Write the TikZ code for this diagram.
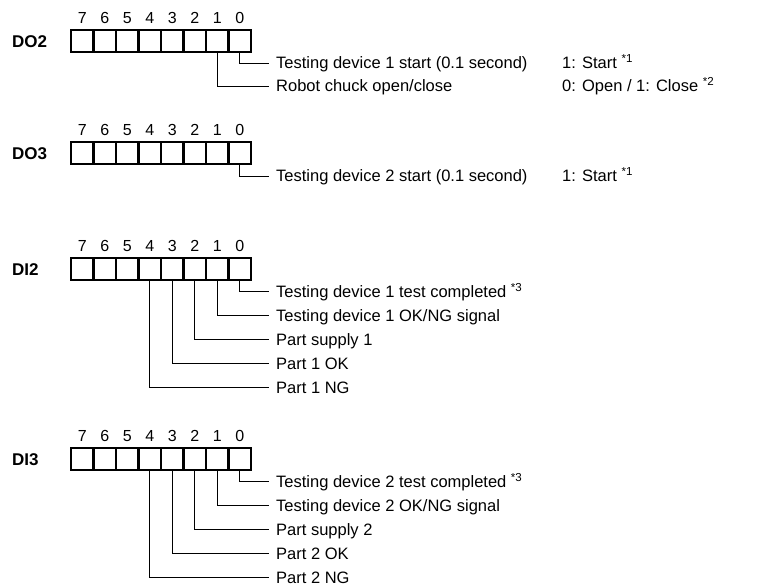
\documentclass[tikz,border=0pt]{standalone}
\usepackage{fontspec}
\setmainfont{Liberation Sans}
\usetikzlibrary{positioning}
\tikzset{
  bitcell/.style={draw, line width=2.1pt, minimum width=22.5pt,
                  minimum height=21.7pt, inner sep=0pt, outer sep=0pt},
  bitnum/.style={font=\fontsize{16}{18}\selectfont, inner sep=0pt,
                 text height=11.5pt, text depth=0pt},
  reglabel/.style={font=\fontsize{17}{19}\selectfont\bfseries, anchor=west,
                   inner sep=0pt, text height=12.2pt, text depth=0pt},
  sigtext/.style={font=\fontsize{16.5}{18}\selectfont, anchor=west,
                  inner xsep=7pt, inner ysep=0pt, text height=11.8pt, text depth=0pt},
  valtext/.style={font=\fontsize{16.5}{18}\selectfont, anchor=west, inner sep=0pt,
                  text height=11.8pt, text depth=0pt},
  sigline/.style={line width=0.9pt}
}
% one register: cells #1-0 .. #1-7 and bit numbers #1-n0 .. #1-n7
\newcommand{\bitrow}[2]{%
  \foreach \b in {0,...,7}{
    \node[bitcell] (#1-\b) at ({239.75-22.5*\b},#2) {};
    \node[bitnum] (#1-n\b) at ({239.75-22.5*\b},{#2-23.1}) {\b};
  }
}

\begin{document}
\begin{tikzpicture}[x=1pt, y=-1pt]
    \useasboundingbox (0,0) rectangle (761,586);

    % DO2
    \bitrow{do2}{41}
    \node[reglabel] (do2) at (12,41) {DO2};
    \node[sigtext] (do2a) at (269,63) {Testing device 1 start (0.1 second)};
    \node[sigtext] (do2b) at (269,86) {Robot chuck open/close};
    \node[valtext] (do2av) at (562,63) {1: Start \textsuperscript{*1}};
    \node[valtext] (do2bv) at (562,86) {0: Open / 1: Close \textsuperscript{*2}};
    \draw[sigline] (do2-0.south) |- (do2a.west);
    \draw[sigline] (do2-1.south) |- (do2b.west);

    % DO3
    \bitrow{do3}{153}
    \node[reglabel] (do3) at (12,153) {DO3};
    \node[sigtext] (do3a) at (269,176) {Testing device 2 start (0.1 second)};
    \node[valtext] (do3av) at (562,176) {1: Start \textsuperscript{*1}};
    \draw[sigline] (do3-0.south) |- (do3a.west);

    % DI2
    \bitrow{di2}{269}
    \node[reglabel] (di2) at (12,269) {DI2};
    \node[sigtext] (di2a) at (269,291.5) {Testing device 1 test completed \textsuperscript{*3}};
    \node[sigtext] (di2b) at (269,315.5) {Testing device 1 OK/NG signal};
    \node[sigtext] (di2c) at (269,339.5) {Part supply 1};
    \node[sigtext] (di2d) at (269,363.5) {Part 1 OK};
    \node[sigtext] (di2e) at (269,387.5) {Part 1 NG};
    \draw[sigline] (di2-0.south) |- (di2a.west);
    \draw[sigline] (di2-1.south) |- (di2b.west);
    \draw[sigline] (di2-2.south) |- (di2c.west);
    \draw[sigline] (di2-3.south) |- (di2d.west);
    \draw[sigline] (di2-4.south) |- (di2e.west);

    % DI3
    \bitrow{di3}{459}
    \node[reglabel] (di3) at (12,459) {DI3};
    \node[sigtext] (di3a) at (269,481.5) {Testing device 2 test completed \textsuperscript{*3}};
    \node[sigtext] (di3b) at (269,505.5) {Testing device 2 OK/NG signal};
    \node[sigtext] (di3c) at (269,529.5) {Part supply 2};
    \node[sigtext] (di3d) at (269,553.5) {Part 2 OK};
    \node[sigtext] (di3e) at (269,577.5) {Part 2 NG};
    \draw[sigline] (di3-0.south) |- (di3a.west);
    \draw[sigline] (di3-1.south) |- (di3b.west);
    \draw[sigline] (di3-2.south) |- (di3c.west);
    \draw[sigline] (di3-3.south) |- (di3d.west);
    \draw[sigline] (di3-4.south) |- (di3e.west);
\end{tikzpicture}
\end{document}
